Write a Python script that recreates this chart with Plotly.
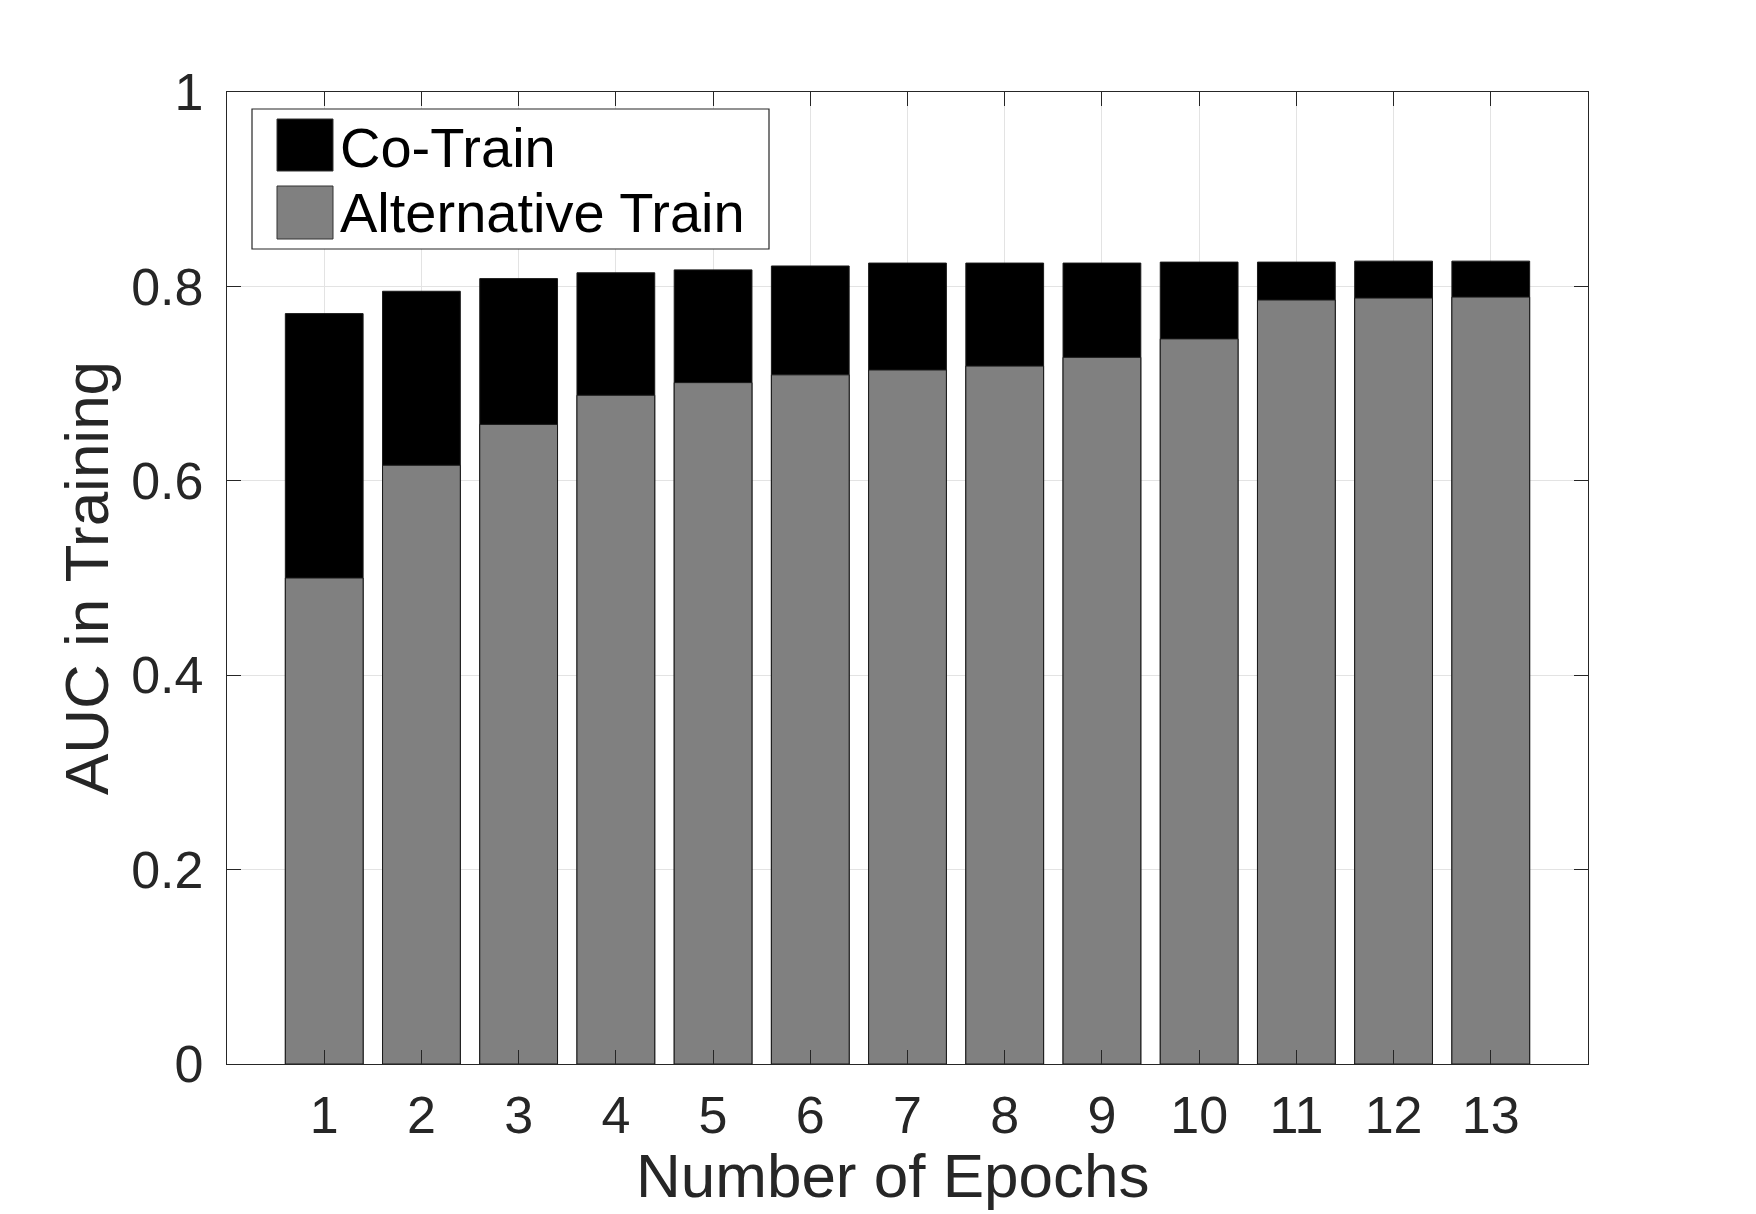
import plotly.graph_objects as go

# ---- data ----
epochs = list(range(1, 14))
epoch_labels = [str(e) for e in epochs]
co_train = [0.772, 0.795, 0.808, 0.814, 0.817, 0.821, 0.824, 0.824, 0.824, 0.825, 0.825, 0.826, 0.826]
alt_train = [0.500, 0.616, 0.658, 0.688, 0.701, 0.709, 0.714, 0.718, 0.727, 0.746, 0.786, 0.788, 0.789]
series_names = ["Co-Train", "Alternative Train"]
series_colors = ["#000000", "#808080"]
y_ticks = [0, 0.2, 0.4, 0.6, 0.8, 1]
y_tick_labels = ["0", "0.2", "0.4", "0.6", "0.8", "1"]

W, H = 1756, 1214
ML, MR, MT, MB = 227, 168, 92, 150
FONT = "Liberation Sans, Arial, Helvetica, sans-serif"
TXT = "#262626"

fig = go.Figure()
for name, vals, col in zip(series_names, [co_train, alt_train], series_colors):
    fig.add_trace(go.Bar(
        x=epochs, y=vals, name=name, width=0.8,
        marker=dict(color=col, line=dict(color="#1a1a1a", width=1)),
        showlegend=False,
    ))

pw, ph = W - ML - MR, H - MT - MB
def px(x):
    return (x - ML) / pw
def py(y):
    return (H - MB - y) / ph

# manual legend (MATLAB-style large swatches)
shapes = [dict(type="rect", xref="paper", yref="paper",
               x0=px(252), x1=px(769), y0=py(249), y1=py(109),
               line=dict(color=TXT, width=1.2), fillcolor="white", layer="above")]
annotations = []
sw_y = [(119, 171), (186, 239)]
txt_y = [147, 213]
for (y0, y1), ty, name, col in zip(sw_y, txt_y, series_names, series_colors):
    shapes.append(dict(type="rect", xref="paper", yref="paper",
                       x0=px(277), x1=px(333), y0=py(y1), y1=py(y0),
                       line=dict(color="#333333", width=1), fillcolor=col, layer="above"))
    annotations.append(dict(text=name, xref="paper", yref="paper", x=px(338), y=py(ty),
                            xanchor="left", yanchor="middle", showarrow=False,
                            font=dict(family=FONT, size=56, color="#000000")))

# x-axis title as annotation for precise placement
annotations.append(dict(text="Number of Epochs", xref="paper", yref="paper",
                        x=px(892), y=py(1212), xanchor="center", yanchor="bottom",
                        showarrow=False, font=dict(family=FONT, size=62, color=TXT)))

fig.update_layout(
    width=W, height=H,
    margin=dict(l=ML, r=MR, t=MT, b=MB),
    paper_bgcolor="white", plot_bgcolor="white",
    barmode="overlay",
    font=dict(family=FONT, color=TXT),
    shapes=shapes, annotations=annotations,
)
fig.update_xaxes(
    range=[0, 14], tickmode="array", tickvals=epochs, ticktext=epoch_labels,
    ticks="inside", ticklen=14, tickwidth=1, tickcolor=TXT,
    showline=True, linecolor=TXT, linewidth=1.2, mirror="ticks",
    showgrid=True, gridcolor="#e3e3e3", gridwidth=1, zeroline=False,
    tickfont=dict(family=FONT, size=52, color=TXT), ticklabelstandoff=5,
)
fig.update_yaxes(
    range=[0, 1], tickmode="array", tickvals=y_ticks, ticktext=y_tick_labels,
    ticks="inside", ticklen=14, tickwidth=1, tickcolor=TXT,
    showline=True, linecolor=TXT, linewidth=1.2, mirror="ticks",
    showgrid=True, gridcolor="#e3e3e3", gridwidth=1, zeroline=False,
    tickfont=dict(family=FONT, size=52, color=TXT), ticklabelstandoff=12,
    title=dict(text="AUC in Training", font=dict(family=FONT, size=62, color=TXT), standoff=2),
)

fig.write_html("out.html")
